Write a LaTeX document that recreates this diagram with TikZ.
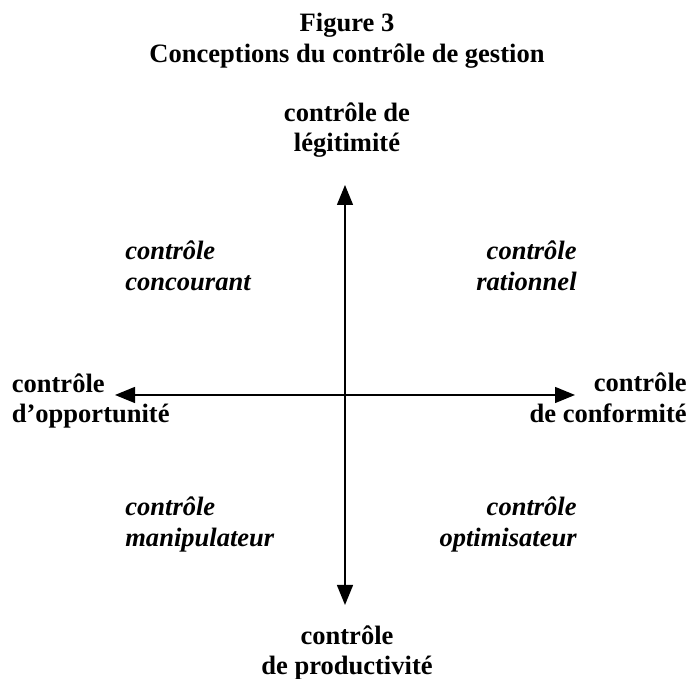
\documentclass[tikz,border=0pt]{standalone}
\usepackage{fontspec}
\setmainfont{Liberation Serif}
\usetikzlibrary{arrows.meta}
\begin{document}
\begin{tikzpicture}[font=\fontsize{15.1}{17.4}\selectfont\bfseries,
  lbl/.style={inner sep=0pt, align=center},
  quad/.style={inner sep=0pt, font=\fontsize{15.1}{17.4}\selectfont\bfseries\itshape},
  axe/.style={line width=0.8pt, {Triangle[length=0.4cm,width=0.32cm]}-{Triangle[length=0.4cm,width=0.32cm]}}]
\useasboundingbox (0,0) rectangle (13.9,13.58);
% Titre
\node[lbl] (titre) at (6.94,12.76) {Figure 3\\Conceptions du contrôle de gestion};
% Axes
\coordinate (haut) at (6.90,9.88); \coordinate (bas) at (6.90,1.48);
\coordinate (gauche) at (2.30,5.68); \coordinate (droite) at (11.50,5.68);
\draw[axe] (bas) -- (haut);
\draw[axe] (gauche) -- (droite);
% Pôles
\node[lbl] (legitimite) at (6.94,10.98) {contrôle de\\légitimité};
\node[lbl] (productivite) at (6.94,0.52) {contrôle\\de productivité};
\node[lbl, anchor=west, align=left] (opportunite) at (0.23,5.56) {contrôle\\d’opportunité};
\node[lbl, anchor=east, align=right] (conformite) at (13.74,5.62) {contrôle\\de conformité};
% Quadrants
\node[quad, anchor=west, align=left] (concourant) at (2.50,8.26) {contrôle\\concourant};
\node[quad, anchor=east, align=right] (rationnel) at (11.54,8.26) {contrôle\\rationnel};
\node[quad, anchor=west, align=left] (manipulateur) at (2.50,3.09) {contrôle\\manipulateur};
\node[quad, anchor=east, align=right] (optimisateur) at (11.54,3.09) {contrôle\\optimisateur};
\end{tikzpicture}
\end{document}
